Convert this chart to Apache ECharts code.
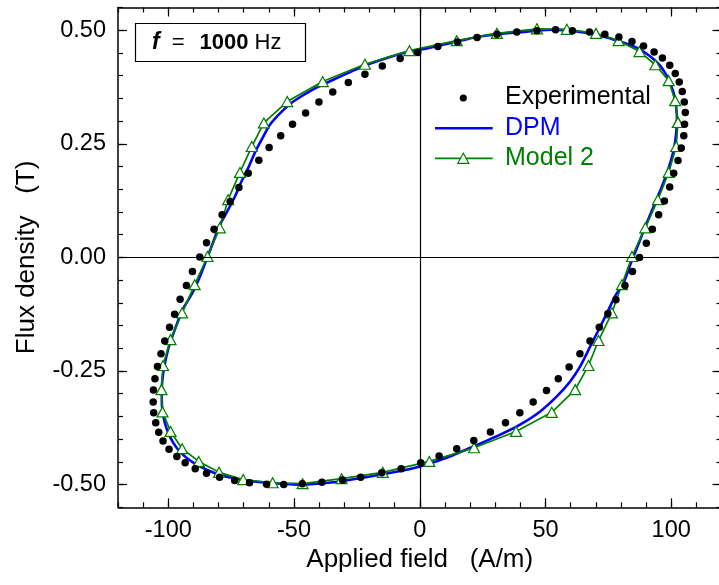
<!DOCTYPE html>
<html>
<head>
<meta charset="utf-8">
<script src="https://cdn.jsdelivr.net/npm/echarts@6/dist/echarts.min.js"></script>
<style>
  html, body { margin: 0; padding: 0; background: #fff; }
  #chart { width: 719px; height: 585px; }
</style>
</head>
<body>
<div id="chart"></div>
<script>
// B-H loop at f = 1000 Hz (H in A/m, B in T)

// experimental points, going round the loop from the right tip
const expH = [105.6, 105.2, 104.4, 103.2, 101.6, 99.4, 96.5, 93.2, 89.0, 84.4,
  79.2, 73.6, 67.5, 60.7, 54.0, 46.6, 38.6, 30.7, 22.8, 15.0,
  7.2, -0.8, -7.8, -14.9, -21.8, -28.4, -34.6, -40.1, -45.4, -50.6,
  -55.3, -59.9, -64.0, -68.2, -71.9, -75.4, -78.6, -81.8, -84.8, -87.5,
  -90.4, -92.8, -95.3, -97.5, -99.5, -101.4, -102.9, -104.3, -105.3, -105.9,
  -106.0, -105.8, -105.0, -103.8, -102.1, -99.7, -96.6, -93.3, -89.3, -84.8,
  -79.6, -73.6, -67.7, -60.9, -54.1, -46.7, -38.9, -30.7, -23.5, -15.1,
  -7.4, 0.4, 7.7, 14.7, 21.5, 28.1, 34.1, 39.8, 45.1, 50.4,
  55.1, 59.4, 63.7, 67.7, 71.4, 74.8, 78.0, 81.6, 84.6, 87.4,
  90.1, 92.5, 95.0, 97.3, 99.4, 101.0, 102.7, 104.0, 105.0, 105.3]
const expB = [0.319, 0.342, 0.365, 0.386, 0.405, 0.423, 0.439, 0.452, 0.465, 0.475,
  0.485, 0.491, 0.496, 0.499, 0.501, 0.499, 0.496, 0.491, 0.484, 0.474,
  0.464, 0.451, 0.438, 0.421, 0.403, 0.385, 0.364, 0.342, 0.318, 0.293,
  0.268, 0.242, 0.214, 0.185, 0.154, 0.123, 0.094, 0.062, 0.032, 0.001,
  -0.031, -0.062, -0.092, -0.125, -0.154, -0.184, -0.212, -0.240, -0.267, -0.292,
  -0.318, -0.342, -0.364, -0.385, -0.404, -0.422, -0.438, -0.452, -0.465, -0.475,
  -0.484, -0.491, -0.496, -0.499, -0.500, -0.498, -0.495, -0.490, -0.484, -0.474,
  -0.465, -0.452, -0.437, -0.421, -0.403, -0.384, -0.364, -0.342, -0.318, -0.293,
  -0.267, -0.241, -0.212, -0.184, -0.154, -0.124, -0.093, -0.062, -0.031, 0.000,
  0.031, 0.062, 0.094, 0.124, 0.155, 0.185, 0.213, 0.241, 0.268, 0.293]

// DPM curve
const dpmH = [102.3, 101.6, 99.6, 96.3, 91.7, 86.4, 79.7, 71.8, 62.5, 53.2,
  42.6, 32.0, 22.7, 14.7, 2.8, -4.1, -13.1, -21.8, -34.4, -42.4,
  -50.3, -54.9, -59.6, -62.9, -65.6, -68.2, -70.9, -73.5, -76.2, -78.8,
  -80.8, -82.8, -84.8, -86.8, -88.8, -90.8, -94.3, -97.4, -100.1, -101.8,
  -102.6, -102.5, -101.4, -99.4, -96.7, -92.8, -87.5, -80.8, -71.5, -60.9,
  -47.7, -34.4, -23.8, -10.5, 0.1, 10.7, 21.3, 32.0, 39.9, 47.9,
  54.5, 59.8, 63.8, 67.8, 71.8, 75.1, 77.7, 81.1, 84.0, 86.6,
  89.7, 93.0, 96.3, 99.0, 101.0, 102.0, 102.3]
const dpmB = [0.310, 0.347, 0.384, 0.417, 0.442, 0.461, 0.475, 0.488, 0.497, 0.501,
  0.497, 0.492, 0.485, 0.475, 0.460, 0.453, 0.439, 0.422, 0.391, 0.370,
  0.343, 0.321, 0.292, 0.259, 0.230, 0.197, 0.167, 0.134, 0.105, 0.079,
  0.054, 0.024, -0.005, -0.034, -0.060, -0.082, -0.115, -0.159, -0.203, -0.247,
  -0.291, -0.328, -0.364, -0.394, -0.419, -0.441, -0.460, -0.476, -0.489, -0.496,
  -0.500, -0.495, -0.486, -0.473, -0.460, -0.441, -0.416, -0.390, -0.368, -0.339,
  -0.306, -0.273, -0.240, -0.196, -0.152, -0.115, -0.085, -0.056, -0.012, 0.024,
  0.068, 0.112, 0.156, 0.197, 0.237, 0.274, 0.310]

// Model 2 curve (one triangle per computed point)
const m2H = [102.7, 101.6, 99.0, 93.7, 87.4, 79.1, 70.1, 58.5, 46.6, 30.7,
  14.7, -4.1, -21.8, -38.6, -52.7, -62.0, -66.8, -71.5, -76.2, -79.5,
  -84.4, -89.5, -94.5, -99.1, -102.1, -102.7, -102.3, -99.1, -94.5, -87.9,
  -79.8, -70.2, -58.5, -46.6, -31.1, -14.7, 3.8, 21.6, 38.3, 52.5,
  61.8, 67.1, 71.1, 76.4, 80.4, 84.4, 89.7, 94.7, 99.0, 102.0, 102.7]
const m2B = [0.297, 0.345, 0.389, 0.424, 0.453, 0.477, 0.493, 0.502, 0.503, 0.493,
  0.477, 0.455, 0.425, 0.387, 0.343, 0.296, 0.244, 0.187, 0.127, 0.065,
  0.002, -0.060, -0.122, -0.181, -0.238, -0.291, -0.340, -0.383, -0.421, -0.449,
  -0.473, -0.489, -0.496, -0.498, -0.487, -0.473, -0.449, -0.419, -0.383, -0.341,
  -0.291, -0.238, -0.183, -0.122, -0.060, 0.002, 0.065, 0.127, 0.187, 0.244, 0.297]

// axis ticks
const xMajor = [-100, -50, 0, 50, 100]
const yMajor = [-0.5, -0.25, 0, 0.25, 0.5]

const FONT = "'Liberation Sans', Arial, sans-serif"
const zip = (a, b) => a.map((v, i) => [v, b[i]])

// one side of the frame: minor ticks on one axis, long major ticks on an overlay
function frameAxis(pos, min, max, step, major, extra) {
  const base = {
    type: 'value', position: pos, min: min, max: max, interval: step,
    splitLine: { show: false },
    axisLabel: { show: false },
    silent: true
  }
  const minor = Object.assign({}, base, {
    axisLine: { show: true, onZero: false, lineStyle: { color: '#000', width: 1.5 } },
    axisTick: { show: true, inside: true, length: 5, lineStyle: { color: '#000', width: 1.2 } }
  }, extra || {})
  const big = Object.assign({}, base, {
    axisLine: { show: false, onZero: false },
    axisTick: { show: true, inside: true, length: 9, customValues: major, lineStyle: { color: '#000', width: 1.2 } }
  })
  return [minor, big]
}

const xAxes = [
  ...frameAxis('bottom', -120, 120, 10, xMajor, {
    axisLabel: { show: true, customValues: xMajor, margin: 11, color: '#000', fontSize: 23.5, fontFamily: FONT },
    name: 'Applied field   (A/m)', nameLocation: 'middle', nameGap: 38,
    nameTextStyle: { color: '#000', fontSize: 26, fontFamily: FONT }
  }),
  ...frameAxis('top', -120, 120, 10, xMajor)
]
const yAxes = [
  ...frameAxis('left', -0.55, 0.55, 0.05, yMajor, {
    axisLabel: { show: true, customValues: yMajor, margin: 12, color: '#000', fontSize: 23.5, fontFamily: FONT,
      formatter: v => v.toFixed(2) },
    name: 'Flux density   (T)', nameLocation: 'middle', nameGap: 78,
    nameTextStyle: { color: '#000', fontSize: 26, fontFamily: FONT }
  }),
  ...frameAxis('right', -0.55, 0.55, 0.05, yMajor)
]

const chart = echarts.init(document.getElementById('chart'), null, { renderer: 'canvas' })

chart.setOption({
  animation: false,
  backgroundColor: '#fff',
  // the right-hand frame sits just past the edge of the picture
  grid: { left: 118, top: 7.5, width: 603.5, height: 499.8, containLabel: false, outerBoundsMode: 'none' },
  xAxis: xAxes,
  yAxis: yAxes,
  series: [
    {
      name: 'DPM',
      type: 'line',
      xAxisIndex: 0, yAxisIndex: 0,
      data: zip(dpmH, dpmB),
      showSymbol: false,
      smooth: 0.2,
      lineStyle: { color: '#0000ff', width: 2.6 },
      z: 2,
      markLine: {
        silent: true, symbol: 'none', animation: false,
        label: { show: false },
        lineStyle: { color: '#000', width: 1.2, type: 'solid' },
        data: [{ xAxis: 0 }, { yAxis: 0 }]
      }
    },
    {
      name: 'Model 2',
      type: 'line',
      xAxisIndex: 0, yAxisIndex: 0,
      data: zip(m2H, m2B),
      symbol: 'triangle',
      symbolSize: [11, 10],
      itemStyle: { color: '#fff', borderColor: '#008000', borderWidth: 1.2 },
      lineStyle: { color: '#008000', width: 1.7 },
      z: 3
    },
    {
      name: 'Experimental',
      type: 'scatter',
      xAxisIndex: 0, yAxisIndex: 0,
      data: zip(expH, expB),
      symbol: 'circle',
      symbolSize: 7.5,
      itemStyle: { color: '#000', opacity: 1 },
      z: 4
    }
  ],
  graphic: [
    // frequency box
    {
      type: 'rect', z: 10,
      shape: { x: 135.5, y: 23.5, width: 170, height: 38 },
      style: { fill: '#fff', stroke: '#000', lineWidth: 1.2 }
    },
    {
      type: 'text', z: 11, x: 152, y: 43,
      style: {
        text: '{fi|f}{eq|=}{b|1000}{n| Hz}',
        verticalAlign: 'middle',
        rich: {
          fi: { fontStyle: 'italic', fontWeight: 'bold', fontSize: 23, fontFamily: FONT, fill: '#000' },
          eq: { fontSize: 22, fontFamily: FONT, fill: '#000', padding: [0, 15, 0, 12] },
          b: { fontWeight: 'bold', fontSize: 22, fontFamily: FONT, fill: '#000' },
          n: { fontSize: 22, fontFamily: FONT, fill: '#000' }
        }
      }
    },
    // legend
    { type: 'circle', z: 10, shape: { cx: 463.3, cy: 98, r: 3.6 }, style: { fill: '#000' } },
    { type: 'line', z: 10, shape: { x1: 435, y1: 128.3, x2: 492.7, y2: 128.3 }, style: { stroke: '#0000ff', lineWidth: 2.6 } },
    { type: 'line', z: 10, shape: { x1: 435, y1: 158.3, x2: 492.7, y2: 158.3 }, style: { stroke: '#008000', lineWidth: 1.7 } },
    {
      type: 'polygon', z: 11,
      shape: { points: [[457.8, 163.3], [468.8, 163.3], [463.3, 153.3]] },
      style: { fill: '#fff', stroke: '#008000', lineWidth: 1.2 }
    },
    { type: 'text', z: 10, x: 505, y: 97, style: { text: 'Experimental', fill: '#000', fontSize: 25, fontFamily: FONT, verticalAlign: 'middle' } },
    { type: 'text', z: 10, x: 505, y: 128, style: { text: 'DPM', fill: '#0000ff', fontSize: 25, fontFamily: FONT, verticalAlign: 'middle' } },
    { type: 'text', z: 10, x: 505, y: 158, style: { text: 'Model 2', fill: '#008000', fontSize: 25, fontFamily: FONT, verticalAlign: 'middle' } }
  ]
})
</script>
</body>
</html>
